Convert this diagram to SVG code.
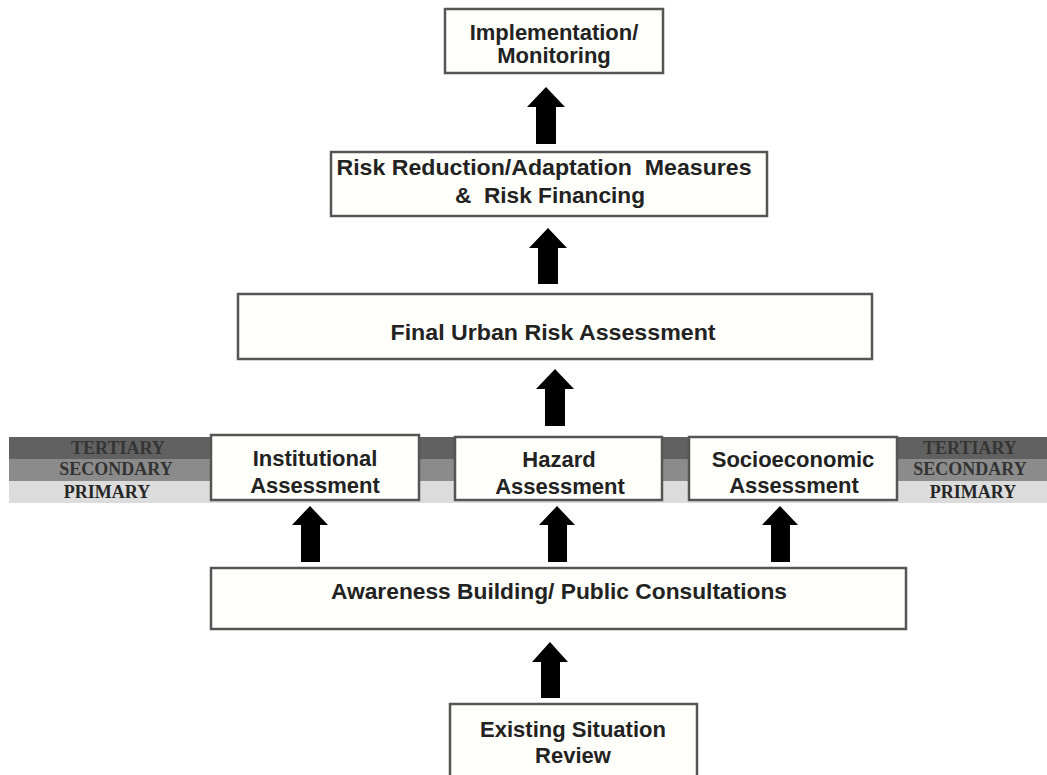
<svg xmlns="http://www.w3.org/2000/svg" width="1047" height="775" viewBox="0 0 1047 775">
<style>
.box{fill:#fffffb;stroke:#555;stroke-width:2.5}
.t{font-family:"Liberation Sans",Arial,sans-serif;font-weight:bold;font-size:22px;fill:#222;text-anchor:middle}
.b{font-family:"Liberation Serif","Times New Roman",serif;font-weight:bold;font-size:18px;text-anchor:middle}
.arrow{fill:#000}
</style>
<rect width="1047" height="775" fill="#fff"/>
<g id="band">
<rect x="9" y="437" width="1038" height="22" fill="#616161"/>
<rect x="9" y="459" width="1038" height="22" fill="#8b8b8b"/>
<rect x="9" y="481" width="1038" height="22" fill="#dcdcdc"/>
<text class="b" x="118" y="454" fill="#353535">TERTIARY</text>
<text class="b" x="116" y="475" fill="#333">SECONDARY</text>
<text class="b" x="107" y="498" fill="#262626">PRIMARY</text>
<text class="b" x="970" y="454" fill="#353535">TERTIARY</text>
<text class="b" x="970" y="475" fill="#333">SECONDARY</text>
<text class="b" x="973" y="498" fill="#262626">PRIMARY</text>
</g>
<g id="connectors">
<path class="arrow" d="M546,87 L565,107 L556,107 L556,144 L536,144 L536,107 L527,107 Z"/>
<path class="arrow" d="M548,228 L567,248 L558,248 L558,284 L538,284 L538,248 L529,248 Z"/>
<path class="arrow" d="M555,369 L574,389 L565,389 L565,426 L545,426 L545,389 L536,389 Z"/>
<path class="arrow" d="M310,506 L328,525 L320,525 L320,562 L301,562 L301,525 L292,525 Z"/>
<path class="arrow" d="M557,506 L575,525 L567,525 L567,562 L548,562 L548,525 L539,525 Z"/>
<path class="arrow" d="M780,506 L798,525 L790,525 L790,562 L771,562 L771,525 L762,525 Z"/>
<path class="arrow" d="M550,642 L568,662 L560,662 L560,698 L541,698 L541,662 L532,662 Z"/>
</g>
<g id="implementation">
<rect class="box" x="445" y="9" width="218" height="64"/>
<text class="t" x="554" y="40">Implementation/</text>
<text class="t" x="554" y="63">Monitoring</text>
</g>
<g id="risk-reduction">
<rect class="box" x="331" y="152" width="436" height="64"/>
<text class="t" x="544" y="175" textLength="415" lengthAdjust="spacingAndGlyphs" xml:space="preserve">Risk Reduction/Adaptation  Measures</text>
<text class="t" x="550" y="203" textLength="190" lengthAdjust="spacingAndGlyphs" xml:space="preserve">&amp;  Risk Financing</text>
</g>
<g id="final-assessment">
<rect class="box" x="238" y="294" width="634" height="65"/>
<text class="t" x="553" y="340" textLength="325" lengthAdjust="spacingAndGlyphs">Final Urban Risk Assessment</text>
</g>
<g id="institutional">
<rect class="box" x="211" y="435" width="208" height="65"/>
<text class="t" x="315" y="466">Institutional</text>
<text class="t" x="315" y="493">Assessment</text>
</g>
<g id="hazard">
<rect class="box" x="455" y="437" width="207" height="63"/>
<text class="t" x="559" y="467">Hazard</text>
<text class="t" x="560" y="494">Assessment</text>
</g>
<g id="socioeconomic">
<rect class="box" x="689" y="437" width="208" height="63"/>
<text class="t" x="793" y="467">Socioeconomic</text>
<text class="t" x="794" y="493">Assessment</text>
</g>
<g id="awareness">
<rect class="box" x="211" y="568" width="695" height="61"/>
<text class="t" x="559" y="599" textLength="456" lengthAdjust="spacingAndGlyphs">Awareness Building/  Public Consultations</text>
</g>
<g id="existing">
<rect class="box" x="450" y="704" width="247" height="80"/>
<text class="t" x="573" y="737">Existing Situation</text>
<text class="t" x="573" y="763">Review</text>
</g>
</svg>
